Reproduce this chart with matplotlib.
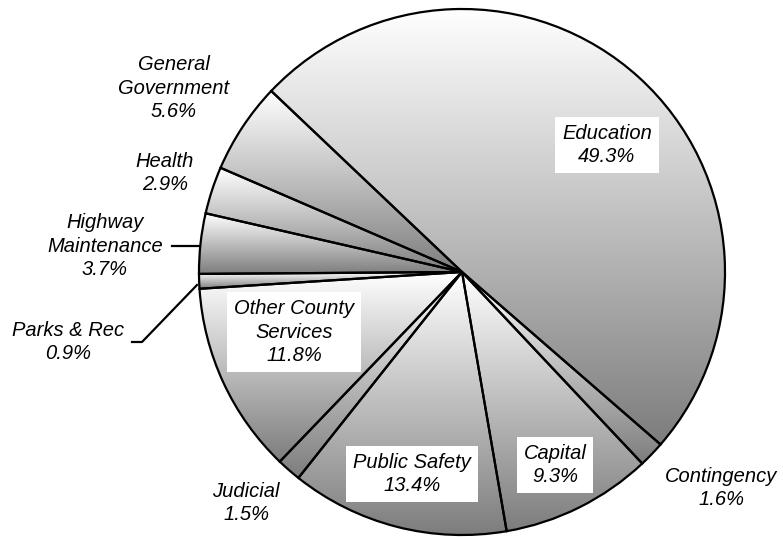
import numpy as np
import matplotlib
matplotlib.use("Agg")
import matplotlib.pyplot as plt
from matplotlib.colors import LinearSegmentedColormap

# Budget shares, clockwise from Education
categories = ["Education", "Contingency", "Capital", "Public Safety", "Judicial",
              "Other County Services", "Parks & Rec", "Highway Maintenance",
              "Health", "General Government"]
shares = [49.3, 1.6, 9.3, 13.4, 1.5, 11.8, 0.9, 3.7, 2.9, 5.6]
label_text = ["Education\n49.3%", "Contingency\n1.6%", "Capital\n9.3%",
              "Public Safety\n13.4%", "Judicial\n1.5%",
              "Other County\nServices\n11.8%", "Parks & Rec\n0.9%",
              "Highway\nMaintenance\n3.7%", "Health\n2.9%",
              "General\nGovernment\n5.6%"]

W, H = 783, 537
fig = plt.figure(figsize=(W / 100, H / 100), dpi=100)
ax = fig.add_axes([0, 0, 1, 1])

cx, cy, r = 462, H - 272, 263
wedges, _ = ax.pie(shares, startangle=136.5, counterclock=False,
                   center=(cx, cy), radius=r,
                   wedgeprops=dict(facecolor="none", edgecolor="black", linewidth=1.6))

# vertical white -> grey gradient inside each wedge
cmap = LinearSegmentedColormap.from_list("g", ["#ffffff", "#7d7d7d"])
grad = np.linspace(0, 1, 256).reshape(-1, 1)
for w in wedges:
    bb = w.get_path().get_extents()
    im = ax.imshow(grad, cmap=cmap, extent=[bb.x0, bb.x1, bb.y0, bb.y1],
                   origin="upper", aspect="auto", interpolation="bilinear", zorder=0.5)
    im.set_clip_path(w)
    w.set_zorder(1)

ax.set_xlim(0, W)
ax.set_ylim(0, H)
ax.axis("off")

font = dict(family="Liberation Sans", style="italic", fontsize=14.5,
            ha="center", va="center", linespacing=1.3)
box = dict(facecolor="white", edgecolor="none", pad=5)

# label centres (pixel positions of the reference)
pos = {
    "Education": (607, 145, True),
    "Contingency": (721, 488, False),
    "Capital": (555, 465, True),
    "Public Safety": (412, 474, True),
    "Judicial": (246, 503, False),
    "Other County Services": (294, 332, True),
    "Parks & Rec": (68, 342, False),
    "Highway Maintenance": (105, 246, False),
    "Health": (165, 173, False),
    "General Government": (174, 88, False),
}
for cat, txt in zip(categories, label_text):
    x, y, boxed = pos[cat]
    ax.text(x, H - y, txt, bbox=box if boxed else None, zorder=3, **font)

# leader lines
ax.plot([172, 199], [H - 246, H - 246], color="black", lw=1.6, zorder=2)
ax.plot([132, 142, 197], [H - 342, H - 342, H - 285], color="black", lw=1.6, zorder=2)

fig.savefig("out.png", dpi=100)
